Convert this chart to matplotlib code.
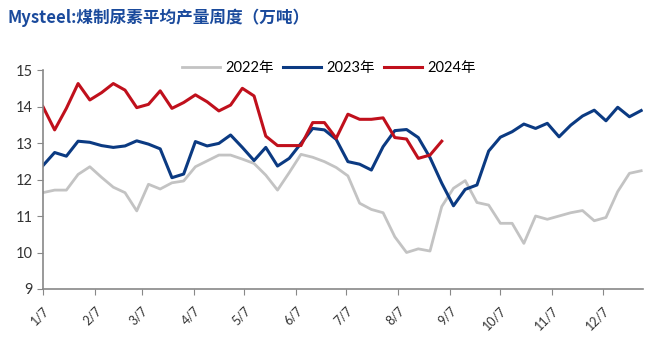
import matplotlib
matplotlib.use("Agg")
import matplotlib.pyplot as plt
import pandas as pd

plt.rcParams['font.family'] = ['Lato', 'Noto Sans CJK SC', 'DejaVu Sans']

# semaines (même année fictive pour superposer les trois courbes)
semaines = pd.date_range("2023-01-07", periods=52, freq="7D")

prod_2022 = [11.64, 11.71, 11.71, 12.14, 12.35, 12.06, 11.79, 11.64, 11.14, 11.87,
             11.74, 11.91, 11.96, 12.35, 12.51, 12.67, 12.67, 12.56, 12.44, 12.12,
             11.71, 12.19, 12.69, 12.61, 12.49, 12.33, 12.10, 11.35, 11.18, 11.09,
             10.43, 10.00, 10.10, 10.04, 11.26, 11.76, 11.97, 11.37, 11.30, 10.80,
             10.80, 10.25, 11.00, 10.91, 11.00, 11.09, 11.15, 10.87, 10.96, 11.67,
             12.17, 12.24]
prod_2023 = [12.38, 12.74, 12.64, 13.05, 13.02, 12.93, 12.88, 12.92, 13.06, 12.97,
             12.84, 12.05, 12.15, 13.04, 12.92, 12.99, 13.22, 12.88, 12.52, 12.88,
             12.37, 12.58, 12.99, 13.40, 13.36, 13.10, 12.49, 12.42, 12.26, 12.90,
             13.34, 13.37, 13.15, 12.60, 11.90, 11.28, 11.73, 11.85, 12.78, 13.16,
             13.31, 13.52, 13.40, 13.54, 13.17, 13.49, 13.74, 13.90, 13.61, 13.98,
             13.72, 13.89]
prod_2024 = [14.00, 13.36, 13.95, 14.63, 14.18, 14.38, 14.63, 14.45, 13.97, 14.06,
             14.43, 13.95, 14.11, 14.32, 14.13, 13.88, 14.04, 14.50, 14.29, 13.19,
             12.93, 12.93, 12.93, 13.56, 13.56, 13.13, 13.79, 13.65, 13.65, 13.69,
             13.15, 13.11, 12.58, 12.67, 13.05]

mois_ticks = pd.date_range("2023-01-01", periods=12, freq="MS") + pd.Timedelta(days=6)
mois_labels = ["1/7", "2/7", "3/7", "4/7", "5/7", "6/7", "7/7", "8/7", "9/7", "10/7", "11/7", "12/7"]

fig = plt.figure(figsize=(6.6, 3.52), dpi=100)
ax = fig.add_axes([0.065, 0.179, 0.909, 0.622])

ax.plot(semaines, prod_2022, color="#c3c3c3", lw=2.0, label="2022年")
ax.plot(semaines, prod_2023, color="#0b3a82", lw=2.2, label="2023年")
ax.plot(semaines[:len(prod_2024)], prod_2024, color="#c0101c", lw=2.2, label="2024年")

ax.set_ylim(9, 15)
ax.set_yticks(range(9, 16))
ax.set_xlim(pd.Timestamp("2023-01-07"), pd.Timestamp("2023-12-31"))
ax.set_xticks(mois_ticks)
ax.set_xticklabels(mois_labels, rotation=45, ha="right", rotation_mode="anchor", fontsize=9, color="#333333")
ax.tick_params(axis="y", labelsize=10.5, colors="#333333", length=4, color="#888888")
ax.tick_params(axis="x", length=4, color="#888888", pad=7)

for s in ["top", "right"]:
    ax.spines[s].set_visible(False)
for s in ["left", "bottom"]:
    ax.spines[s].set_color("#888888")
    ax.spines[s].set_linewidth(1.2)

ax.legend(loc="center", bbox_to_anchor=(0.477, 1.01), ncol=3, frameon=False,
          fontsize=10.5, handlelength=2.6, columnspacing=0.6, handletextpad=0.4)

fig.text(0.012, 0.949, "Mysteel:煤制尿素平均产量周度（万吨）", fontsize=12, fontweight="bold",
         color="#1a4a9c", va="center", family=["Noto Sans CJK SC", "DejaVu Sans"])

fig.savefig("out.png", dpi=100)
